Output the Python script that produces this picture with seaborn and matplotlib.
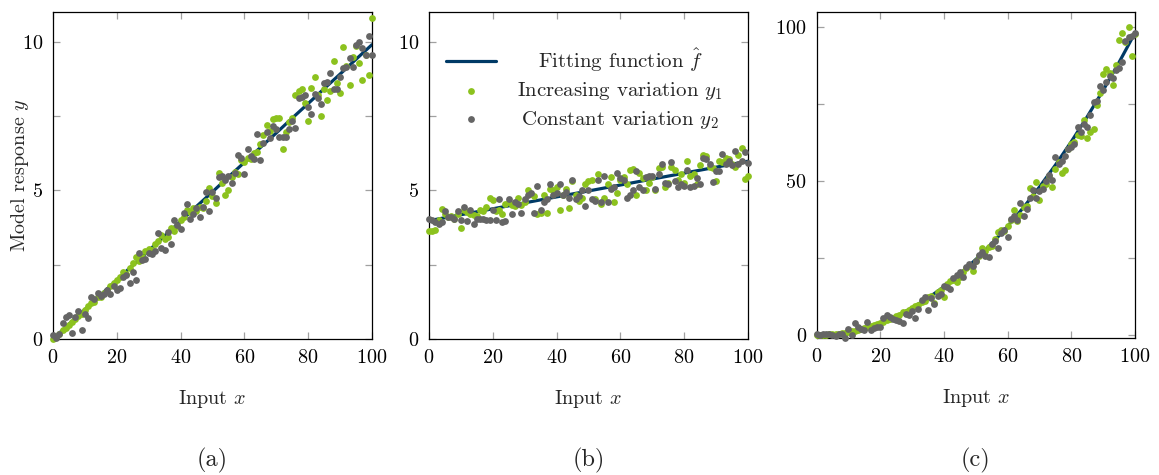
import matplotlib
matplotlib.use("Agg")
import matplotlib.pyplot as plt
import pandas as pd
import seaborn as sns
from matplotlib.ticker import MultipleLocator

# ---- data ----
x_values = list(range(0, 101))
fit_x = list(range(0, 101, 5))

fit_a = [0.0, 0.5, 0.99, 1.49, 1.98, 2.48, 2.97, 3.47, 3.96, 4.46, 4.95,
         5.45, 5.94, 6.44, 6.93, 7.43, 7.92, 8.42, 8.91, 9.41, 9.9]
fit_b = [3.98, 4.08, 4.18, 4.28, 4.38, 4.48, 4.58, 4.68, 4.78, 4.88, 4.98,
         5.08, 5.18, 5.28, 5.38, 5.48, 5.58, 5.68, 5.78, 5.88, 5.98]
fit_c = [0.0, 0.25, 0.98, 2.21, 3.92, 6.13, 8.82, 12.01, 15.68, 19.85, 24.5,
         29.65, 35.28, 41.41, 48.02, 55.13, 62.72, 70.81, 79.38, 88.45, 98.0]

y1_a = [0.00, 0.08, 0.18, 0.30, 0.38, 0.47, 0.56, 0.66, 0.76, 0.85,
        0.98, 1.10, 1.20, 1.25, 1.40, 1.42, 1.55, 1.62, 1.80, 1.90,
        1.98, 2.08, 2.25, 2.18, 2.40, 2.55, 2.75, 2.62, 2.75, 2.95,
        3.02, 2.98, 3.20, 3.30, 3.50, 3.35, 3.42, 3.75, 3.62, 3.80,
        4.00, 4.12, 4.33, 4.28, 4.40, 4.32, 4.45, 4.40, 4.65, 5.08,
        4.80, 4.57, 5.60, 5.25, 4.85, 5.00, 5.45, 5.62, 5.56, 6.03,
        5.95, 6.10, 6.05, 6.25, 6.30, 6.55, 6.85, 7.19, 7.00, 7.40,
        7.45, 7.42, 6.40, 6.95, 7.30, 7.45, 8.22, 8.35, 8.40, 7.95,
        7.34, 8.46, 8.82, 8.20, 7.50, 8.40, 8.05, 8.35, 9.36, 8.60,
        8.28, 9.83, 9.20, 8.54, 9.50, 9.85, 9.30, 8.70, 9.55, 8.88,
        10.79]
y2_a = [0.12, 0.05, 0.17, 0.55, 0.73, 0.82, 0.20, 0.75, 0.93, 0.31,
        0.85, 0.70, 1.40, 1.35, 1.55, 1.45, 1.50, 1.65, 1.52, 1.80,
        1.65, 1.70, 2.10, 2.15, 1.90, 2.25, 2.00, 2.90, 2.65, 2.70,
        2.90, 2.85, 2.95, 3.55, 3.05, 3.00, 3.60, 3.20, 4.00, 3.85,
        3.70, 4.25, 4.55, 4.05, 4.20, 4.40, 4.10, 4.45, 4.95, 4.30,
        4.95, 4.75, 5.45, 5.50, 5.35, 5.50, 5.25, 5.60, 6.20, 6.10,
        5.55, 6.40, 6.15, 6.05, 6.90, 6.03, 6.60, 6.95, 6.75, 7.15,
        7.05, 6.80, 6.80, 6.80, 7.05, 7.35, 7.10, 8.10, 8.15, 8.20,
        7.80, 7.58, 8.25, 8.10, 7.90, 8.60, 8.65, 8.96, 8.40, 8.40,
        8.80, 9.10, 9.16, 9.45, 9.15, 9.90, 10.00, 9.80, 9.55, 10.19,
        9.55]

y1_b = [3.64, 3.64, 3.66, 4.00, 4.36, 4.22, 4.10, 4.15, 4.05, 4.20,
        3.75, 4.35, 4.28, 4.20, 4.18, 4.15, 4.35, 4.30, 4.45, 4.73,
        4.68, 4.30, 4.35, 4.22, 4.55, 4.60, 4.50, 4.48, 4.75, 4.50,
        4.62, 5.00, 4.88, 4.80, 4.20, 4.25, 4.85, 4.25, 5.05, 5.00,
        5.10, 4.33, 4.85, 5.05, 4.42, 5.33, 4.85, 4.65, 4.75, 5.22,
        5.30, 5.35, 4.72, 5.54, 4.55, 4.75, 5.20, 5.46, 4.60, 4.90,
        5.35, 5.45, 5.20, 5.70, 5.72, 4.85, 5.60, 5.40, 5.00, 5.25,
        5.45, 5.00, 5.76, 5.80, 5.10, 5.25, 5.78, 5.70, 5.35, 5.55,
        5.25, 6.00, 5.50, 5.55, 5.20, 5.85, 6.20, 6.15, 5.80, 5.75,
        5.30, 6.00, 5.95, 6.10, 6.05, 5.90, 5.80, 6.20, 6.43, 5.37,
        5.50]
y2_b = [4.03, 4.00, 3.92, 3.88, 3.95, 4.30, 4.10, 4.10, 4.05, 4.30,
        4.00, 4.45, 3.98, 4.35, 3.86, 4.05, 4.05, 4.05, 4.02, 4.00,
        4.35, 4.00, 4.70, 3.95, 3.97, 4.70, 4.20, 4.62, 4.55, 4.25,
        4.70, 4.85, 4.90, 4.25, 5.14, 4.35, 4.60, 4.70, 5.20, 4.85,
        4.90, 5.20, 4.85, 4.95, 4.75, 5.35, 4.70, 4.80, 5.00, 4.47,
        5.00, 4.70, 4.65, 5.35, 4.60, 5.50, 4.60, 5.05, 5.10, 5.60,
        5.40, 5.35, 4.75, 4.85, 5.00, 5.65, 5.10, 5.00, 5.45, 5.50,
        5.50, 5.05, 5.55, 5.90, 5.25, 5.20, 5.95, 5.30, 5.10, 5.20,
        5.15, 5.70, 5.13, 5.15, 5.40, 5.20, 6.10, 6.05, 5.90, 5.28,
        5.65, 5.65, 6.23, 5.90, 6.00, 5.85, 6.34, 5.90, 6.00, 6.29,
        5.93]

y1_c = [0.0, 0.05, 0.1, 0.15, 0.2, 0.3, 0.4, 0.5, 0.65, 0.8,
        0.95, 1.2, 1.4, 1.6, 1.9, 2.2, 2.5, 2.9, 3.2, 3.6,
        3.9, 4.3, 4.8, 5.2, 5.6, 6.2, 6.6, 7.4, 7.6, 8.2,
        8.9, 9.4, 9.6, 10.6, 11.2, 12.2, 12.8, 10.5, 14.0, 14.5,
        12.4, 16.5, 17.4, 18.0, 17.2, 18.9, 20.5, 21.8, 22.4, 20.9,
        24.0, 25.8, 28.3, 27.2, 28.5, 29.0, 31.2, 33.5, 34.0, 33.8,
        35.5, 37.4, 40.5, 37.0, 39.0, 41.5, 42.0, 47.8, 45.0, 49.7,
        43.8, 48.5, 49.0, 51.5, 48.0, 54.0, 56.0, 52.4, 53.5, 60.5,
        62.0, 62.5, 65.0, 64.5, 69.7, 63.8, 66.0, 66.7, 74.5, 78.5,
        84.6, 86.2, 85.0, 81.1, 87.5, 95.7, 97.8, 95.0, 100.0, 90.5,
        97.5]
y2_c = [0.3, 0.1, 0.2, 0.2, 0.3, 0.1, -0.2, 0.2, 0.4, -0.8,
        2.0, 0.0, 3.8, 2.5, 2.0, 1.8, 4.1, 1.5, 2.2, 2.7,
        2.5, 5.5, 6.5, 5.8, 5.2, 5.0, 4.6, 3.8, 6.8, 6.5,
        7.8, 5.6, 8.5, 11.5, 12.5, 8.1, 12.0, 10.1, 12.8, 13.3,
        15.9, 15.5, 14.8, 18.5, 19.5, 20.5, 18.8, 22.0, 23.0, 22.5,
        24.0, 26.0, 26.8, 25.7, 25.2, 29.5, 30.5, 28.4, 33.0, 34.0,
        31.9, 37.5, 38.5, 37.2, 42.7, 38.5, 41.0, 44.5, 47.0, 44.5,
        46.7, 47.5, 50.0, 52.0, 50.3, 57.8, 55.5, 56.5, 58.0, 60.5,
        61.0, 62.0, 67.5, 66.0, 68.5, 67.6, 71.5, 75.7, 76.0, 80.8,
        79.5, 82.0, 84.0, 83.5, 86.0, 86.5, 88.5, 95.5, 96.5, 97.0,
        97.8]

panel_names = ["(a)", "(b)", "(c)"]
fit_label = r"Fitting function $\hat{f}$"
y1_label = r"Increasing variation $y_1$"
y2_label = r"Constant variation $y_2$"

GREEN = "#8cc21e"
GREY = "#656565"
NAVY = "#003a66"
TICK_GREY = "#a0a0a0"

sns.set_style("ticks")
plt.rcParams["font.family"] = ["cmr10", "DejaVu Serif"]
plt.rcParams["mathtext.fontset"] = "cm"
plt.rcParams["axes.formatter.use_mathtext"] = True
plt.rcParams["axes.unicode_minus"] = False

fig = plt.figure(figsize=(11.59, 4.75), dpi=100)
positions = [
    [0.0457, 0.2863, 0.2752, 0.6884],
    [0.3701, 0.2863, 0.2752, 0.6884],
    [0.7045, 0.2874, 0.2748, 0.6863],
]
panels = [
    (fit_a, y1_a, y2_a, (0, 11), 5, 2.5),
    (fit_b, y1_b, y2_b, (0, 11), 5, 2.5),
    (fit_c, y1_c, y2_c, (-1.1, 104.6), 50, 25),
]

axes = []
for pos, (fit, y1, y2, ylim, major, minor), name in zip(positions, panels, panel_names):
    ax = fig.add_axes(pos)
    df = pd.DataFrame({"x": x_values, "y1": y1, "y2": y2})
    df_fit = pd.DataFrame({"x": fit_x, "f": fit})

    sns.lineplot(data=df_fit, x="x", y="f", color=NAVY, linewidth=2.3,
                 label=fit_label, legend=False, ax=ax, zorder=2)
    sns.scatterplot(data=df, x="x", y="y1", color=GREEN, s=24, linewidth=0,
                    label=y1_label, legend=False, ax=ax, clip_on=False, zorder=3)
    sns.scatterplot(data=df, x="x", y="y2", color=GREY, s=24, linewidth=0,
                    label=y2_label, legend=False, ax=ax, clip_on=False, zorder=4)

    ax.set_xlim(0, 100)
    ax.set_ylim(*ylim)
    ax.xaxis.set_major_locator(MultipleLocator(20))
    ax.yaxis.set_major_locator(MultipleLocator(major))
    ax.yaxis.set_minor_locator(MultipleLocator(minor))
    ax.tick_params(which="both", direction="in", top=True, right=True,
                   length=5, width=0.9, color=TICK_GREY, labelcolor="black",
                   labelsize=14.5, pad=7)
    for sp in ax.spines.values():
        sp.set_color("black")
        sp.set_linewidth(0.9)

    ax.set_xlabel(r"Input $x$", fontsize=14.5)
    ax.xaxis.set_label_coords(0.5, -0.15)
    ax.set_ylabel("")
    fig.text(pos[0] + pos[2] / 2, 1 - 460 / 475, name, ha="center",
             va="center", fontsize=17.5)
    axes.append(ax)

axes[0].set_ylabel(r"Model response $y$", fontsize=14.5)
axes[0].yaxis.set_label_coords(-0.07, 0.5)

leg = axes[1].legend(loc="upper left", bbox_to_anchor=(0.055, 0.895),
                     frameon=False, fontsize=15, handlelength=2.4,
                     handletextpad=1.0, labelspacing=0.3, borderpad=0,
                     borderaxespad=0)

# centre the legend entries on a common axis, like the original
fig.canvas.draw()
renderer = fig.canvas.get_renderer()
texts = leg.get_texts()
widths = [t.get_window_extent(renderer).width for t in texts]
wmax = max(widths)
for t, w in zip(texts, widths):
    t.set_x((wmax - w) / 2)

fig.savefig("out.png", dpi=100)
